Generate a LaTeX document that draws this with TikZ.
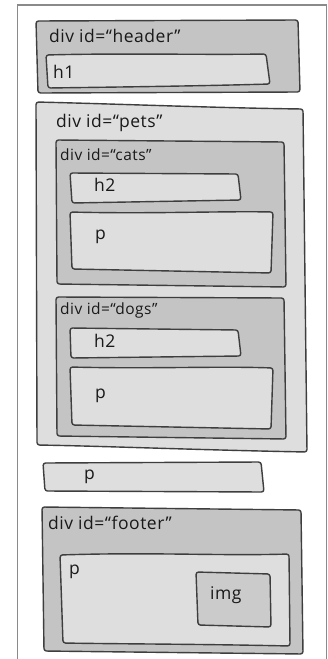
\documentclass[tikz,border=0pt]{standalone}
\usepackage{fontspec}
\setmainfont{Open Sans}
\newfontfamily\lblfont[LetterSpace=3]{Open Sans}
\definecolor{framec}{HTML}{8A8A8A}
\definecolor{linec}{HTML}{3E3E3E}
\definecolor{darkf}{HTML}{C4C4C4}
\definecolor{lightf}{HTML}{DEDEDE}
\definecolor{imgf}{HTML}{CBCBCB}
\tikzset{
  box/.style={draw=linec, line width=1.4pt, rounded corners=2.5pt, line join=round},
  dbox/.style={box, fill=darkf},
  lbox/.style={box, fill=lightf},
  lbl/.style={anchor=west, inner sep=0pt, text=black!90, font=\lblfont\fontsize{17.5}{19}\selectfont},
  slbl/.style={lbl, font=\lblfont\fontsize{15.5}{17}\selectfont},
}
\begin{document}
\begin{tikzpicture}[x=1pt,y=-1pt]
\useasboundingbox (0,0) rectangle (328,659);
\fill[white] (0,0) rectangle (328,659);
% outer frame
\draw[framec, line width=1.6pt] (17.5,660) -- (17.5,5) -- (326.5,5) -- (326.5,660);
% header
\draw[dbox] (36,21) -- (298,20) -- (300,92) -- (38,93) -- cycle;
\draw[lbox] (46,55) .. controls (120,53) and (200,55) .. (266,54) -- (270,84) .. controls (200,86) and (120,87) .. (48,88) -- cycle;
\node[lbl] (thead) at (49,36) {div id=“header”};
\node[lbl] (th1) at (53,72) {h1};
% pets
\draw[lbox] (36,102) .. controls (120,104) and (220,108) .. (303,109) -- (307,452) .. controls (200,450) and (100,446) .. (37,445) -- cycle;
\node[lbl] (tpets) at (56,123) {div id=“pets”};
% cats
\draw[dbox] (56,140) -- (284,142) -- (286,287) -- (57,284) -- cycle;
\node[slbl] (tcats) at (60,155) {div id=“cats”};
\draw[lbox] (70,173) -- (238,174) -- (241,200) -- (72,203) -- cycle;
\node[lbl] (tch2) at (94,185) {h2};
\draw[lbox] (70,212) .. controls (150,214) and (220,211) .. (273,212) -- (271,273) -- (72,269) -- cycle;
\node[lbl] (tcp) at (95,237) {p};
% dogs
\draw[dbox] (56,297) -- (284,298) -- (286,439) -- (57,436) -- cycle;
\node[slbl] (tdogs) at (60,310) {div id=“dogs”};
\draw[lbox] (70,328) -- (238,330) -- (241,356) -- (71,358) -- cycle;
\node[lbl] (tdh2) at (94,341) {h2};
\draw[lbox] (70,367) .. controls (150,369) and (220,366) .. (273,368) -- (271,429) -- (72,425) -- cycle;
\node[lbl] (tdp) at (95,396) {p};
% standalone p
\draw[lbox] (43,463) -- (261,462) -- (264,492) -- (45,491) -- cycle;
\node[lbl] (tp) at (84,477) {p};
% footer
\draw[dbox] (42,507) -- (301,510) -- (303,654) -- (44,651) -- cycle;
\node[lbl] (tfoot) at (48,523) {div id=“footer”};
\draw[lbox] (60,555) .. controls (150,552) and (220,556) .. (289,554) -- (290,646) .. controls (200,644) and (120,644) .. (63,643) -- cycle;
\node[lbl] (tfp) at (69,572) {p};
\draw[box, fill=imgf] (196,572) -- (270,574) -- (271,627) -- (198,625) -- cycle;
\node[lbl] (timg) at (210,595) {img};
\end{tikzpicture}
\end{document}
